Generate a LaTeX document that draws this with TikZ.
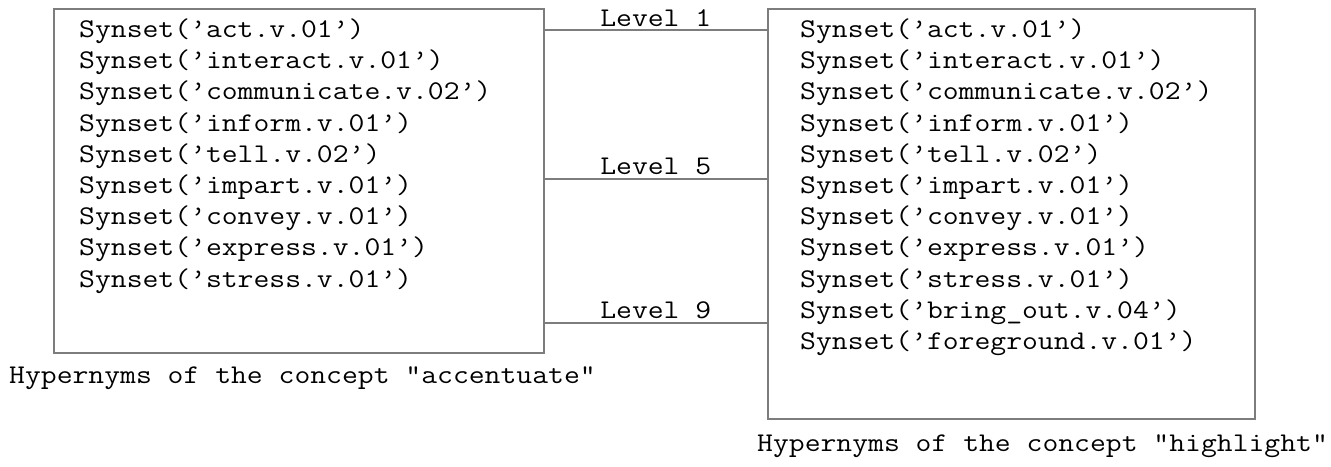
\documentclass[tikz,border=0pt]{standalone}
\usepackage{fontspec}
\newfontfamily\synfont[FakeStretch=1.14]{Latin Modern Mono}
\definecolor{boxgray}{RGB}{125,125,125}
\tikzset{
  box/.style={draw=boxgray, line width=1.6pt, rectangle, inner sep=0pt, anchor=north west},
  syn/.style={anchor=base west, inner sep=0pt, font={\synfont\fontsize{27}{31.2}\selectfont}},
  link/.style={draw=boxgray, line width=1.6pt},
  lvl/.style={above, inner sep=3pt, font={\synfont\fontsize{27}{31.2}\selectfont}}
}
\begin{document}
\begin{tikzpicture}[x=1pt,y=-1pt]
      \useasboundingbox (0,0) rectangle (1331,466);
      \node[box, minimum width=490pt, minimum height=344pt] (accent) at (53,8) {};
      \node[box, minimum width=487pt, minimum height=410pt] (highl) at (767,8) {};
      \foreach \s [count=\i] in {act.v.01, interact.v.01, communicate.v.02,
          inform.v.01, tell.v.02, impart.v.01, convey.v.01, express.v.01, stress.v.01}
        \node[syn] (a\i) at (79, 37.5+31.2*\i-31.2) {Synset(’\s’)};
      \foreach \s [count=\i] in {act.v.01, interact.v.01, communicate.v.02,
          inform.v.01, tell.v.02, impart.v.01, convey.v.01, express.v.01, stress.v.01,
          bring\_out.v.04, foreground.v.01}
        \node[syn] (h\i) at (800, 37.5+31.2*\i-31.2) {Synset(’\s’)};
      \node[syn] (accentcap) at (9,383) {Hypernyms of the concept “accentuate”};
      \node[syn] (highlcap) at (757,451) {Hypernyms of the concept “highlight”};
      \begin{scope}[link]
        \draw ([yshift=-22pt]accent.north east) -- node[lvl] (lev1) {Level 1} ([yshift=-22pt]highl.north west);
        \draw ([yshift=-171pt]accent.north east) -- node[lvl] (lev5) {Level 5} ([yshift=-171pt]highl.north west);
        \draw ([yshift=-315pt]accent.north east) -- node[lvl] (lev9) {Level 9} ([yshift=-315pt]highl.north west);
      \end{scope}
    \end{tikzpicture}
\end{document}
